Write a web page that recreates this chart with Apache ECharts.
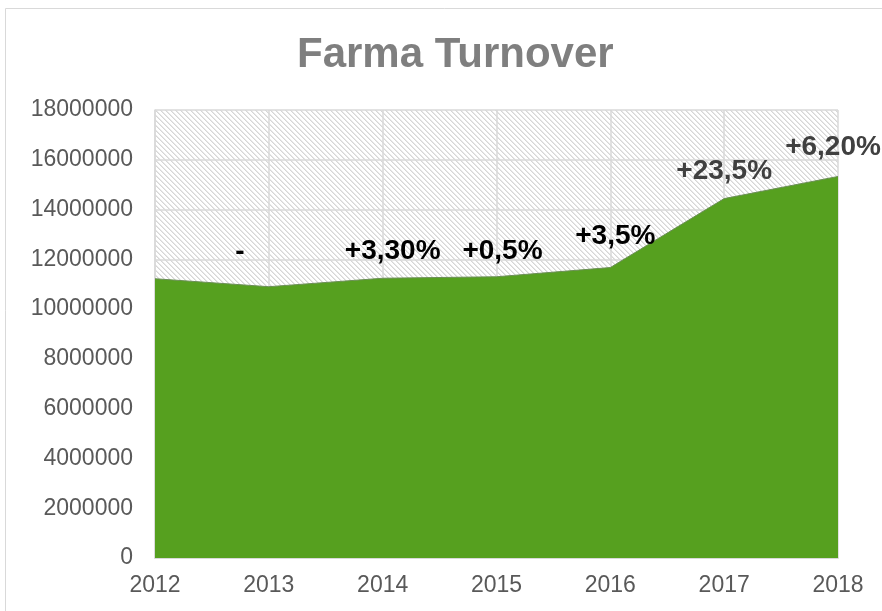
<!DOCTYPE html>
<html>
<head>
<meta charset="utf-8">
<title>Farma Turnover</title>
<script src="https://cdn.jsdelivr.net/npm/echarts@6/dist/echarts.min.js"></script>
<style>
  html, body { margin: 0; padding: 0; background: #ffffff; }
  #chart { width: 882px; height: 611px; }
</style>
</head>
<body>
<div id="chart"></div>
<script>
// values
const years = ['2012', '2013', '2014', '2015', '2016', '2017', '2018'];
const turnover = [11220000, 10900000, 11240000, 11300000, 11670000, 14440000, 15330000];
const growthLabels = ['', '-', '+3,30%', '+0,5%', '+3,5%', '+23,5%', '+6,20%'];
const yTicks = { min: 0, max: 18000000, step: 2000000 };

// label placement tweaks (Excel labels were dragged by hand)
const labelOffsets = [[0, 0], [-29, -15], [10, -8], [6, -6], [5, -12], [0, -8], [-5, -10]];
const labelColors = ['#000000', '#000000', '#000000', '#000000', '#000000', '#404040', '#404040'];

// light downward diagonal hatch for the plot background
function makeHatch() {
  const size = 5;
  const c = document.createElement('canvas');
  c.width = size;
  c.height = size;
  const ctx = c.getContext('2d');
  const img = ctx.createImageData(size, size);
  for (let y = 0; y < size; y++) {
    for (let x = 0; x < size; x++) {
      const d = ((x - y) % size + size) % size;
      const v = d === 0 ? 214 : (d === 1 ? 232 : 255);
      const i = (y * size + x) * 4;
      img.data[i] = v;
      img.data[i + 1] = v;
      img.data[i + 2] = v;
      img.data[i + 3] = 255;
    }
  }
  ctx.putImageData(img, 0, 0);
  return { image: c, repeat: 'repeat' };
}

const chart = echarts.init(document.getElementById('chart'), null, { renderer: 'canvas' });

const seriesData = turnover.map((v, i) => ({
  value: v,
  label: {
    show: growthLabels[i] !== '',
    formatter: growthLabels[i],
    offset: labelOffsets[i],
    color: labelColors[i]
  }
}));

chart.setOption({
  animation: false,
  title: {
    text: 'Farma Turnover',
    left: 292,
    top: 29,
    textStyle: {
      fontFamily: 'Liberation Sans, Arial, sans-serif',
      fontSize: 42,
      fontWeight: 'bold',
      color: '#7f7f7f'
    }
  },
  graphic: [
    {
      type: 'rect',
      silent: true,
      shape: { x: 5.5, y: 8.5, width: 1000, height: 1000 },
      style: { fill: null, stroke: '#d9d9d9', lineWidth: 1 }
    }
  ],
  grid: {
    left: 155,
    right: 44,
    top: 110,
    bottom: 53,
    show: true,
    borderWidth: 0,
    backgroundColor: makeHatch()
  },
  xAxis: {
    type: 'category',
    data: years,
    boundaryGap: false,
    axisLine: { lineStyle: { color: '#d9d9d9', width: 2 } },
    axisTick: { show: false },
    axisLabel: {
      color: '#595959',
      fontFamily: 'Liberation Sans, Arial, sans-serif',
      fontSize: 23,
      margin: 16
    },
    splitLine: { show: true, lineStyle: { color: '#d9d9d9', width: 1.5 } }
  },
  yAxis: {
    type: 'value',
    min: yTicks.min,
    max: yTicks.max,
    interval: yTicks.step,
    axisLine: { show: true, lineStyle: { color: '#d9d9d9', width: 1.5 } },
    axisTick: { show: false },
    axisLabel: {
      color: '#595959',
      fontFamily: 'Liberation Sans, Arial, sans-serif',
      fontSize: 23,
      margin: 22,
      formatter: (v) => String(v)
    },
    splitLine: { show: true, lineStyle: { color: '#d9d9d9', width: 1.5 } }
  },
  series: [
    {
      type: 'line',
      data: seriesData,
      symbol: 'circle',
      symbolSize: 0,
      showSymbol: true,
      lineStyle: { color: '#6b8f55', width: 1 },
      areaStyle: { color: '#56a01f', opacity: 1 },
      label: {
        show: true,
        position: 'top',
        fontFamily: 'Liberation Sans, Arial, sans-serif',
        fontSize: 28,
        fontWeight: 'bold'
      },
      z: 3
    }
  ]
});
</script>
</body>
</html>
